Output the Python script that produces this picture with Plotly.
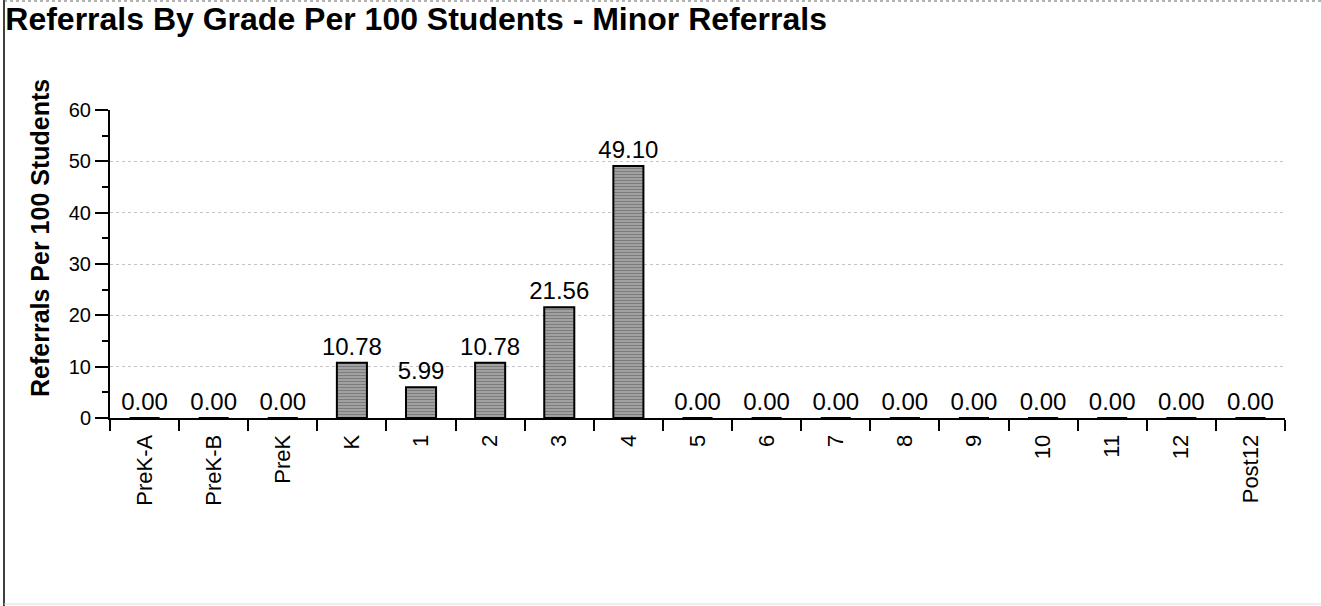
import plotly.graph_objects as go

grades = ["PreK-A", "PreK-B", "PreK", "K", "1", "2", "3", "4", "5", "6", "7", "8", "9", "10", "11", "12", "Post12"]
referrals = [0.00, 0.00, 0.00, 10.78, 5.99, 10.78, 21.56, 49.10, 0.00, 0.00, 0.00, 0.00, 0.00, 0.00, 0.00, 0.00, 0.00]
labels = [f"{v:.2f}" for v in referrals]

FONT = "Arial, Liberation Sans, sans-serif"

fig = go.Figure(go.Bar(
    x=grades, y=referrals, text=labels, textposition="outside",
    constraintext="none",
    textfont=dict(family=FONT, size=24, color="black"),
    cliponaxis=False,
    marker=dict(color="#8a8a8a", line=dict(color="black", width=2),
                pattern=dict(shape="-", fgcolor="#505050", bgcolor="#a8a8a8", size=3, solidity=0.45)),
))

W, H = 1321, 606
L, R, T, B = 110, 36, 110, 188
pw, ph = W - L - R, H - T - B

fig.update_layout(
    width=W, height=H,
    margin=dict(l=L, r=R, t=T, b=B),
    paper_bgcolor="white", plot_bgcolor="white",
    bargap=0.565,
    showlegend=False,
    font=dict(family=FONT, color="black"),
    uniformtext=dict(minsize=24, mode="show"),
    title=dict(text="<b>Referrals By Grade Per 100 Students - Minor Referrals</b>",
               xref="container", yref="container", x=0.004, xanchor="left",
               y=1 - 19 / H, yanchor="middle",
               font=dict(family=FONT, size=32, color="black")),
    xaxis=dict(type="category", showline=True, linecolor="black", linewidth=2,
               ticks="outside", tickson="boundaries", ticklen=11, tickwidth=2, tickcolor="black",
               tickangle=-90, tickfont=dict(family=FONT, size=22, color="black"),
               ticklabelstandoff=6,
               showgrid=False, mirror=False),
    yaxis=dict(range=[0, 60], dtick=10, showline=True, linecolor="black", linewidth=2,
               ticks="outside", ticklen=13, tickwidth=1.5, tickcolor="black",
               tickfont=dict(family=FONT, size=20, color="black"),
               showgrid=True, gridcolor="#c4c4c4", griddash="dot", gridwidth=1,
               zeroline=False,
               minor=dict(dtick=5, ticks="outside", ticklen=6, tickcolor="black", showgrid=False)),
    annotations=[dict(text="<b>Referrals Per 100 Students</b>", textangle=-90,
                      xref="paper", yref="paper",
                      x=(40 - L) / pw, y=(H - B - 238) / ph,
                      xanchor="center", yanchor="middle", showarrow=False,
                      font=dict(family=FONT, size=25, color="black"))],
    shapes=[
        dict(type="line", xref="paper", yref="paper",
             x0=(4 - L) / pw, x1=(4 - L) / pw, y0=(H - B - 0) / ph, y1=(H - B - 606) / ph,
             line=dict(color="black", width=1.5)),
        dict(type="line", xref="paper", yref="paper",
             x0=(4 - L) / pw, x1=(1321 - L) / pw, y0=(H - B - 1) / ph, y1=(H - B - 1) / ph,
             line=dict(color="#666666", width=1, dash="dot")),
        dict(type="line", xref="paper", yref="paper",
             x0=(4 - L) / pw, x1=(1321 - L) / pw, y0=(H - B - 604) / ph, y1=(H - B - 604) / ph,
             line=dict(color="#dddddd", width=1)),
    ],
)

fig.write_html("out.html", config={"displayModeBar": False},
               post_script="document.body.style.margin='0';")
